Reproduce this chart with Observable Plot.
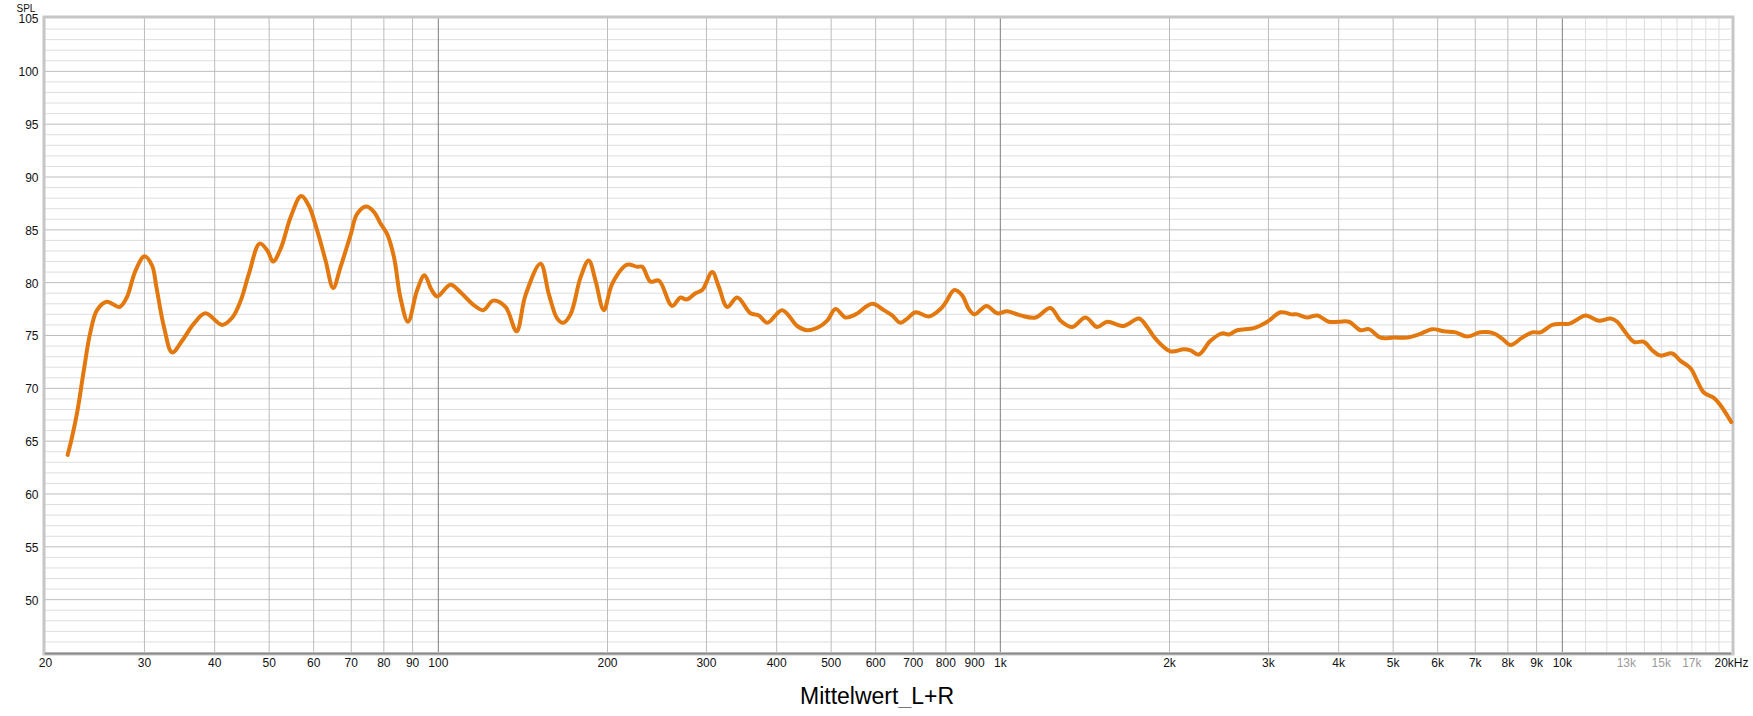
<!DOCTYPE html>
<html>
<head>
<meta charset="utf-8">
<script src="https://cdn.jsdelivr.net/npm/d3@7"></script>
<script src="https://cdn.jsdelivr.net/npm/@observablehq/plot@0.6"></script>
<style>
  html, body { margin: 0; padding: 0; background: #fff; overflow: hidden; }
  #title { width: 1754px; text-align: center; font: 23px "Liberation Sans", Arial, sans-serif; line-height: 23px; margin-top: 1px; color: #000; }
</style>
</head>
<body>
<div id="chart"></div>
<div id="title">Mittelwert_L+R</div>
<script>
// Frequency response (Hz) and SPL (dB)
const freqs = [21.9,22.3,22.8,23.4,24.0,24.7,25.7,27.1,27.9,28.9,30.0,30.96,31.5,32.5,33.6,35.0,36.7,38.5,41.25,43.0,44.5,46.0,48.1,49.7,50.8,52.4,54.6,57.0,58.8,60.9,63.0,65.0,67.0,69.8,71.7,74.4,76.8,78.9,81.1,83.4,85.6,88.3,91.7,94.5,97.1,99.5,105.1,109.5,114.9,120.2,125.2,131.7,137.8,142.9,152.0,157.3,162.8,166.8,171.9,179.1,185.2,190.4,197.0,203.9,216.8,225.9,230.6,238.5,246.8,260.6,269.7,276.4,286.8,294.8,307.1,315.6,326.6,340.3,359.4,371.9,384.9,409.2,435.1,453.3,475.4,492.0,509.1,530.4,552.6,591.6,620.4,642,664,682.8,706.4,745.9,782.5,798.7,828.7,855.3,878.9,899.5,945.0,987.3,1028.5,1086,1155,1228,1280,1343,1418,1487,1549,1659,1764,1825,1888,2008,2121,2180,2255,2366,2482,2551,2639,2826,2986,3153,3300,3375,3516,3663,3842,4002,4170,4375,4526,4748,5014,5297,5556,5870,6155,6457,6771,7152,7553,7817,8090,8484,8839,9148,9595,9990,10265,10626,10995,11614,12183,12522,12867,13408,13968,14452,14955,15685,16230,16909,17379,17857,18604,19117,19984];
const spl = [63.7,65.4,67.9,71.7,75.15,77.4,78.2,77.7,78.6,81.1,82.5,81.6,79.6,75.8,73.4,74.5,76.1,77.1,76.0,76.7,78.3,80.8,83.7,83.0,82.0,83.2,86.2,88.2,87.3,84.9,82.1,79.5,81.5,84.5,86.5,87.2,86.7,85.6,84.6,82.4,78.6,76.3,79.3,80.7,79.4,78.7,79.8,79.1,78.0,77.4,78.3,77.7,75.4,78.8,81.8,78.9,76.6,76.2,77.0,80.5,82.1,80.2,77.4,79.9,81.7,81.5,81.5,80.1,80.2,77.8,78.6,78.4,79.0,79.3,81.0,79.6,77.7,78.6,77.1,76.9,76.2,77.4,75.9,75.5,75.8,76.4,77.5,76.7,77.0,78.0,77.4,76.9,76.2,76.6,77.2,76.8,77.5,78.1,79.3,78.8,77.5,77.0,77.8,77.1,77.3,76.9,76.7,77.6,76.4,75.8,76.7,75.8,76.3,75.9,76.6,75.8,74.7,73.5,73.7,73.6,73.2,74.5,75.2,75.1,75.5,75.7,76.3,77.2,77.0,77.0,76.7,76.9,76.3,76.3,76.3,75.5,75.6,74.8,74.8,74.8,75.1,75.6,75.4,75.3,74.9,75.3,75.2,74.7,74.1,74.8,75.3,75.3,76.0,76.1,76.1,76.5,76.9,76.4,76.6,76.3,75.5,74.4,74.4,73.6,73.1,73.3,72.6,71.9,70.7,69.6,69.1,68.4,66.8];

// Axis ticks and labels
const xTicks = [20,30,40,50,60,70,80,90,100,200,300,400,500,600,700,800,900,1000,2000,3000,4000,5000,6000,7000,8000,9000,10000,20000];
const xTickLabels = ["20","30","40","50","60","70","80","90","100","200","300","400","500","600","700","800","900","1k","2k","3k","4k","5k","6k","7k","8k","9k","10k","20kHz"];
const xTicksGray = [13000,15000,17000];
const xTickLabelsGray = ["13k","15k","17k"];
const yTicks = [50,55,60,65,70,75,80,85,90,95,100,105];

// Grid lines
const gridMajorX = [30,40,50,60,70,80,90,200,300,400,500,600,700,800,900,2000,3000,4000,5000,6000,7000,8000,9000];
const gridDecadeX = [100,1000,10000];
const gridMinorX = [11000,12000,13000,14000,15000,16000,17000,18000,19000];
const gridMajorY = [50,55,60,65,70,75,80,85,90,95,100];
const gridMinorY = [46,47,48,49,51,52,53,54,56,57,58,59,61,62,63,64,66,67,68,69,71,72,73,74,76,77,78,79,81,82,83,84,86,87,88,89,91,92,93,94,96,97,98,99,101,102,103,104];

const data = freqs.map((f, i) => ({f, db: spl[i]}));
const xLab = xTicks.map((t, i) => ({t, label: xTickLabels[i]}));
const xLabGray = xTicksGray.map((t, i) => ({t, label: xTickLabelsGray[i]}));

const chart = Plot.plot({
  width: 1753,
  height: 684,
  marginLeft: 45,
  marginRight: 22,
  marginTop: 18,
  marginBottom: 32,
  style: {fontFamily: "'Liberation Sans', Arial, sans-serif", fontSize: "12px", color: "#111", background: "#fff", overflow: "visible"},
  x: {type: "log", domain: [20, 20000], axis: null},
  y: {domain: [45, 105], axis: null},
  marks: [
    Plot.ruleY(gridMinorY, {stroke: "#dedede", strokeWidth: 1}),
    Plot.ruleX(gridMinorX, {stroke: "#dedede", strokeWidth: 1}),
    Plot.ruleY(gridMajorY, {stroke: "#bcbcbc", strokeWidth: 1}),
    Plot.ruleX(gridMajorX, {stroke: "#bdbdbd", strokeWidth: 1}),
    Plot.ruleX(gridDecadeX, {stroke: "#7d7d7d", strokeWidth: 1}),
    Plot.frame({stroke: "#c6c6c6", strokeWidth: 3, inset: -1.5}),
    Plot.ruleY([45], {stroke: "#8a8a8a", strokeWidth: 2, dy: 1}),
    Plot.text(xLab, {x: "t", text: "label", frameAnchor: "bottom", lineAnchor: "top", dy: 6, fill: "#111", fontSize: 12}),
    Plot.text(xLabGray, {x: "t", text: "label", frameAnchor: "bottom", lineAnchor: "top", dy: 6, fill: "#9a9a9a", fontSize: 12}),
    Plot.text(yTicks, {y: d => d, text: d => String(d), frameAnchor: "left", textAnchor: "end", dx: -7, dy: 1, fill: "#111", fontSize: 12}),
    Plot.text(["SPL"], {frameAnchor: "top-left", dx: -29, dy: -13.5, textAnchor: "start", fontSize: 10, fill: "#111"}),
    Plot.line(data, {x: "f", y: "db", stroke: "#e2780e", strokeWidth: 4, curve: "catmull-rom", strokeLinejoin: "round", strokeLinecap: "round"})
  ]
});
document.getElementById("chart").appendChild(chart);
</script>
</body>
</html>
